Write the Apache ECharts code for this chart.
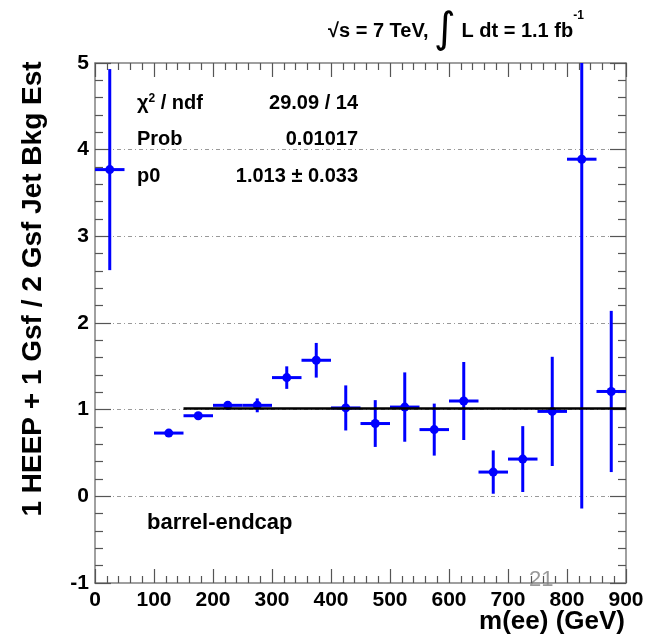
<!DOCTYPE html>
<html>
<head>
<meta charset="utf-8">
<script src="https://cdn.jsdelivr.net/npm/echarts@6/dist/echarts.min.js"></script>
<style>
html, body { margin: 0; padding: 0; background: #fff; }
#main { width: 649px; height: 639px; }
</style>
</head>
<body>
<div id="main"></div>
<script>
// m(ee) bin centres (GeV), ratio and its error
var binCenters = [25, 125, 175, 225, 275, 325, 375, 425, 475, 525, 575, 625, 675, 725, 775, 825, 875];
var ratio      = [3.77, 0.73, 0.93, 1.05, 1.05, 1.37, 1.57, 1.02, 0.84, 1.03, 0.77, 1.10, 0.28, 0.43, 0.98, 3.89, 1.21];
var ratioErr   = [1.16, 0.03, 0.03, 0.05, 0.08, 0.13, 0.20, 0.26, 0.27, 0.40, 0.30, 0.45, 0.25, 0.38, 0.63, 4.03, 0.93];
var binHalfWidth = 25;

var fitValue = 1.013;
var fitRange = [150, 900];

var statNames  = ['χ2 / ndf', 'Prob', 'p0'];
var statValues = ['29.09 / 14', '0.01017', '1.013 ± 0.033'];

var points = binCenters.map(function (x, i) { return [x, ratio[i], ratioErr[i]]; });

var myChart = echarts.init(document.getElementById('main'));

var FONT = '"Liberation Sans", Arial, Helvetica, sans-serif';
var BLUE = '#0000ff';

function errorCross(params, api) {
    var x = api.value(0), y = api.value(1), e = api.value(2);
    var c = api.coord([x, y]);
    var l = api.coord([x - binHalfWidth, y]);
    var r = api.coord([x + binHalfWidth, y]);
    var t = api.coord([x, y + e]);
    var b = api.coord([x, y - e]);
    var st = { stroke: BLUE, lineWidth: 3 };
    return {
        type: 'group',
        children: [
            { type: 'line', shape: { x1: l[0], y1: l[1], x2: r[0], y2: r[1] }, style: st },
            { type: 'line', shape: { x1: t[0], y1: t[1], x2: b[0], y2: b[1] }, style: st },
            { type: 'circle', shape: { cx: c[0], cy: c[1], r: 4.5 }, style: { fill: BLUE } }
        ]
    };
}

function xAx(pos, labels) {
    return {
        type: 'value', position: pos, min: 0, max: 900, interval: 100,
        axisLine: { show: true, onZero: false, lineStyle: { color: '#808080', width: 1.5 } },
        axisTick: { show: true, inside: true, length: 14, lineStyle: { color: '#555', width: 1.2 } },
        minorTick: { show: true, splitNumber: 5, length: 7, lineStyle: { color: '#555', width: 1.2 } },
        axisLabel: { show: labels, margin: 7, color: '#000', fontFamily: FONT, fontWeight: 'bold', fontSize: 21 },
        splitLine: { show: false }
    };
}

function yAx(pos, labels) {
    return {
        type: 'value', position: pos, min: -1, max: 5, interval: 1,
        axisLine: { show: true, onZero: false, lineStyle: { color: '#808080', width: 1.5 } },
        axisTick: { show: true, inside: true, length: 16, lineStyle: { color: '#555', width: 1.2 } },
        minorTick: { show: true, splitNumber: 5, length: 8, lineStyle: { color: '#555', width: 1.2 } },
        axisLabel: { show: labels, margin: 6, color: '#000', fontFamily: FONT, fontWeight: 'bold', fontSize: 21 },
        splitLine: {
            show: labels, showMinLine: false, showMaxLine: false,
            lineStyle: { color: '#999', width: 1, type: [4, 3, 1, 3] }
        }
    };
}

var statGraphics = [];
statNames.forEach(function (n, i) {
    var y = 105 + i * 36.5;
    statGraphics.push({
        type: 'text', left: 137, top: y - 12,
        style: {
            text: n === 'χ2 / ndf' ? '{n|χ}{s|2}{n| / ndf}' : '{n|' + n + '}',
            rich: {
                n: { fontFamily: FONT, fontWeight: 'bold', fontSize: 20, fill: '#000' },
                s: { fontFamily: FONT, fontWeight: 'bold', fontSize: 12, fill: '#000', verticalAlign: 'top', padding: [0, 0, 8, 0] }
            }
        }
    });
    statGraphics.push({
        type: 'text', right: 649 - 358, top: y - 12,
        style: { text: statValues[i], fontFamily: FONT, fontWeight: 'bold', fontSize: 20, fill: '#000', textAlign: 'right' }
    });
});

var option = {
    animation: false,
    backgroundColor: '#fff',
    grid: { left: 95, top: 63, right: 23, bottom: 56, containLabel: false },
    xAxis: [xAx('bottom', true), xAx('top', false)],
    yAxis: [yAx('left', true), yAx('right', false)],
    series: [
        {
            name: 'data', type: 'custom', xAxisIndex: 0, yAxisIndex: 0,
            renderItem: errorCross, clip: true, data: points, z: 3
        },
        {
            name: 'fit', type: 'line', xAxisIndex: 0, yAxisIndex: 0,
            data: [[fitRange[0], fitValue], [fitRange[1], fitValue]],
            symbol: 'none', lineStyle: { color: '#000', width: 2.5 }, z: 4
        }
    ],
    graphic: [
        {
            type: 'text', x: 33, y: 289, rotation: Math.PI / 2,
            style: {
                text: '1 HEEP + 1 Gsf / 2 Gsf Jet Bkg Est', fontFamily: FONT, fontWeight: 'bold',
                fontSize: 28, fill: '#000', textAlign: 'center', textVerticalAlign: 'middle'
            }
        },
        {
            type: 'text', right: 24, top: 609,
            style: { text: 'm(ee) (GeV)', fontFamily: FONT, fontWeight: 'bold', fontSize: 26, fill: '#000', textAlign: 'right' }
        },
        {
            type: 'text', left: 328, top: 10,
            style: {
                text: '{t|√s = 7 TeV, }{i|∫}{t| L dt = 1.1 fb}{s|-1}',
                rich: {
                    t: { fontFamily: FONT, fontWeight: 'bold', fontSize: 20, fill: '#000' },
                    i: { fontFamily: '"DejaVu Sans", sans-serif', fontSize: 42, fill: '#000' },
                    s: { fontFamily: FONT, fontWeight: 'bold', fontSize: 12, fill: '#000', verticalAlign: 'top', padding: [0, 0, 12, 0] }
                }
            }
        },
        {
            type: 'text', left: 147, top: 512,
            style: { text: 'barrel-endcap', fontFamily: FONT, fontWeight: 'bold', fontSize: 22, fill: '#000' }
        },
        {
            type: 'text', left: 529, top: 569,
            style: { text: '21', fontFamily: FONT, fontSize: 22, fill: '#9a9a9a' }
        }
    ].concat(statGraphics)
};

myChart.setOption(option);
</script>
</body>
</html>
